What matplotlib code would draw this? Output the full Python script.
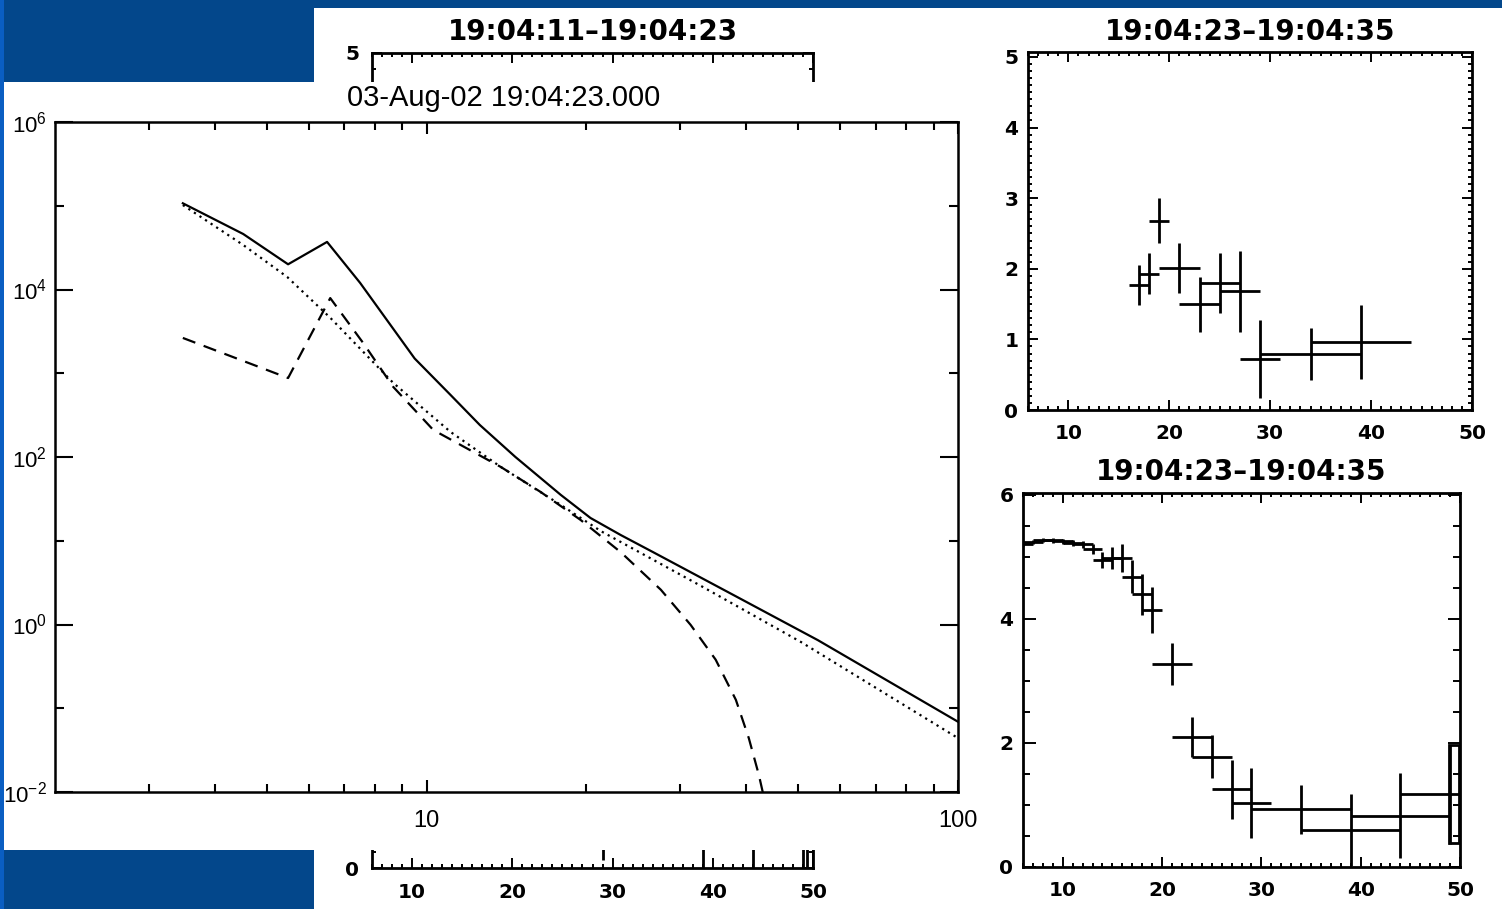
import matplotlib
matplotlib.use('Agg')
import matplotlib.pyplot as plt
import matplotlib.patches as patches
from matplotlib.ticker import MultipleLocator, FixedLocator, NullFormatter

plt.rcParams['font.family'] = ['Liberation Sans', 'DejaVu Sans']
plt.rcParams['mathtext.default'] = 'regular'

# --- main spectrum (flux vs energy in keV)
total_energy = [3.48, 4.52, 5.49, 6.5, 7.5, 9.5, 11.1, 12.6, 14.7, 17.9, 20.35, 23.2, 26.7,
                37.8, 54.5, 100]
total_flux = [1.07e5, 4.6e4, 2.0e4, 3.7e4, 1.2e4, 1.5e3, 550, 241, 100, 35.2, 18.7, 11.7, 7.3,
              2.25, 0.65, 0.069]

nonthermal_energy = [3.48, 4.52, 5.47, 6.59, 8.66, 11.1, 13.8, 17.9, 21.3, 32.8, 50.6, 100]
nonthermal_flux = [1.02e5, 3.4e4, 1.41e4, 4.6e3, 766, 199, 76, 26.7, 13.0, 2.9, 0.62, 0.044]

thermal_energy = [3.48, 5.49, 6.59, 7.6, 8.66, 10.3, 13.8, 16.4, 19.5, 23.2, 27.6, 31.4,
                  35.0, 38.2, 40.4, 42.2, 43.7]
thermal_flux = [2640, 877, 7900, 2300, 686, 210, 76, 38.2, 17.7, 7.3, 2.6, 0.99,
                0.38, 0.126, 0.044, 0.016, 0.006]

main_yticks = [1e-2, 1e0, 1e2, 1e4, 1e6]
main_ylabels = [r'$10^{-2}$', r'$10^{0}$', r'$10^{2}$', r'$10^{4}$', r'$10^{6}$']
main_yminor = [1e-1, 1e1, 1e3, 1e5]
date_text = '03-Aug-02 19:04:23.000'

# --- right top panel
top_title = '19:04:23\u201319:04:35'
top_x = [17, 18, 19, 21, 23, 25, 27, 29, 34, 39]
top_xerr = [1, 1, 1, 2, 2, 2, 2, 2, 5, 5]
top_y = [1.77, 1.93, 2.68, 2.01, 1.50, 1.80, 1.68, 0.72, 0.79, 0.96]
top_yerr = [0.29, 0.29, 0.32, 0.36, 0.39, 0.42, 0.57, 0.55, 0.37, 0.52]

# --- right bottom panel
bot_title = '19:04:23\u201319:04:35'
bot_x = [6, 7, 8, 9, 10, 11, 12, 13, 14, 15, 16, 17, 18, 19, 21, 23, 25, 27, 29, 34, 39, 44, 49]
bot_xerr = [1, 1, 1, 1, 1, 1, 1, 1, 1, 1, 1, 1, 1, 1, 2, 2, 2, 2, 2, 5, 5, 5, 5]
bot_y = [5.20, 5.24, 5.27, 5.27, 5.25, 5.23, 5.20, 5.12, 4.95, 4.98, 4.98, 4.68, 4.40, 4.15,
         3.27, 2.10, 1.78, 1.25, 1.03, 0.93, 0.60, 0.83, 1.17]
bot_yerr = [0.03, 0.03, 0.03, 0.04, 0.04, 0.05, 0.06, 0.08, 0.13, 0.18, 0.22, 0.27, 0.33, 0.37,
            0.34, 0.32, 0.35, 0.48, 0.56, 0.39, 0.58, 0.68, 0.80]
bot_edge_lo, bot_edge_hi = 0.38, 1.96

# --- panel hidden behind the main one (only its edges show)
hid_title = '19:04:11\u201319:04:23'
hid_x = [29, 39, 44, 49]
hid_xerr = [2, 5, 5, 5]
hid_y = [0.6, 0.5, 0.6, 0.9]
hid_yerr = [0.55, 0.55, 0.65, 0.95]

W, H = 1502, 909
blue = '#03478b'


def box(l, t, r, b):
    return [l / W, 1 - b / H, (r - l) / W, (b - t) / H]


fig = plt.figure(figsize=(W / 100, H / 100), dpi=100)
fig.patch.set_facecolor('white')

# slide background
for (l, t, r, b), c in [((0, 0, 1502, 8), blue), ((0, 0, 314, 82), blue),
                        ((0, 850, 314, 909), blue), ((0, 0, 4, 909), '#0a5ec2')]:
    x0, y0, w, h = box(l, t, r, b)
    fig.add_artist(patches.Rectangle((x0, y0), w, h, transform=fig.transFigure,
                                     facecolor=c, edgecolor='none', zorder=0.5))


def idl_ticks(ax, xmaj, xmin, ymaj, ymin, xlen, ylen, lw=2.0):
    ax.xaxis.set_major_locator(MultipleLocator(xmaj))
    ax.xaxis.set_minor_locator(MultipleLocator(xmin))
    ax.yaxis.set_major_locator(MultipleLocator(ymaj))
    ax.yaxis.set_minor_locator(MultipleLocator(ymin))
    ax.tick_params(which='both', direction='in', top=True, right=True, width=1.4, colors='k')
    ax.tick_params(axis='x', which='major', length=xlen[0], pad=10)
    ax.tick_params(axis='x', which='minor', length=xlen[1])
    ax.tick_params(axis='y', which='major', length=ylen[0], pad=7)
    ax.tick_params(axis='y', which='minor', length=ylen[1])
    for s in ax.spines.values():
        s.set_linewidth(lw)
    for lab in ax.get_xticklabels() + ax.get_yticklabels():
        lab.set_fontfamily('DejaVu Sans')
        lab.set_fontweight('bold')
        lab.set_fontsize(14.5)


def spectrum(ax, x, xerr, y, yerr):
    ax.errorbar(x, y, xerr=xerr, yerr=yerr, fmt='none', ecolor='k', elinewidth=2.0, capsize=0)


# hidden panel
ax_h = fig.add_axes(box(372, 53, 813, 868), zorder=0)
ax_h.set_xlim(6, 50)
ax_h.set_ylim(0, 5)
spectrum(ax_h, hid_x, hid_xerr, hid_y, hid_yerr)
ax_h.bar(49.4, bot_edge_hi - bot_edge_lo, width=0.6, bottom=-0.2, align='edge',
         fill=False, edgecolor='k', linewidth=2)
idl_ticks(ax_h, 10, 1, 5, 0.1, (7, 3), (7, 3))
ax_h.set_yticks([0, 5])
ax_h.tick_params(axis='y', pad=9)
ax_h.tick_params(axis='x', pad=11)
for lab in ax_h.get_xticklabels() + ax_h.get_yticklabels():
    lab.set_fontfamily('DejaVu Sans')
    lab.set_fontweight('bold')
    lab.set_fontsize(14.5)
ax_h.set_title(hid_title, fontfamily='DejaVu Sans', fontweight='bold', fontsize=20, pad=9)

# white sheet of the main plot laid over the hidden panel
x0, y0, w, h = box(4, 82, 975, 850)
fig.add_artist(patches.Rectangle((x0, y0), w, h, transform=fig.transFigure,
                                 facecolor='white', edgecolor='none', zorder=1))

# main spectrum plot
ax = fig.add_axes(box(55, 122, 958, 792), zorder=2)
ax.set_xscale('log')
ax.set_yscale('log')
ax.set_xlim(2, 100)
ax.set_ylim(1e-2, 1e6)
ax.plot(total_energy, total_flux, color='k', lw=1.6)
ax.plot(nonthermal_energy, nonthermal_flux, color='k', lw=1.6, linestyle=(0, (1, 2)))
ax.plot(thermal_energy, thermal_flux, color='k', lw=1.6, linestyle=(0, (6, 4)))
ax.yaxis.set_major_locator(FixedLocator(main_yticks))
ax.yaxis.set_minor_locator(FixedLocator(main_yminor))
ax.set_yticklabels(main_ylabels)
ax.yaxis.set_minor_formatter(NullFormatter())
ax.xaxis.set_major_locator(FixedLocator([10, 100]))
ax.set_xticklabels(['10', '100'])
ax.xaxis.set_minor_locator(FixedLocator([3, 4, 5, 6, 7, 8, 9, 20, 30, 40, 50, 60, 70, 80, 90]))
ax.xaxis.set_minor_formatter(NullFormatter())
ax.tick_params(which='both', direction='in', top=True, right=True, width=1.5, labelsize=17)
ax.tick_params(axis='y', which='major', length=13, pad=6, labelsize=16)
ax.tick_params(axis='y', which='minor', length=6.5)
ax.tick_params(axis='x', which='major', length=8.5, pad=13)
ax.tick_params(axis='x', which='minor', length=5.5)
for s in ax.spines.values():
    s.set_linewidth(1.8)
fig.text(347 / W, 1 - 98 / H, date_text, fontsize=21, ha='left', va='center', zorder=5)

# right top panel
ax_t = fig.add_axes(box(1028, 52, 1472, 410))
ax_t.set_xlim(6, 50)
ax_t.set_ylim(0, 5.07)
spectrum(ax_t, top_x, top_xerr, top_y, top_yerr)
idl_ticks(ax_t, 10, 1, 1, 0.1, (7, 3), (7, 3))
ax_t.set_title(top_title, fontfamily='DejaVu Sans', fontweight='bold', fontsize=20, pad=9)

# right bottom panel
ax_b = fig.add_axes(box(1023, 493, 1460, 867))
ax_b.set_xlim(6, 50)
ax_b.set_ylim(0, 6.03)
spectrum(ax_b, bot_x, bot_xerr, bot_y, bot_yerr)
ax_b.bar(48.9, bot_edge_hi - bot_edge_lo, width=1.0, bottom=bot_edge_lo, align='edge',
         fill=False, edgecolor='k', linewidth=2)
idl_ticks(ax_b, 10, 1, 2, 0.5, (7, 3), (9, 5))
ax_b.set_title(bot_title, fontfamily='DejaVu Sans', fontweight='bold', fontsize=20, pad=9)

fig.savefig('out.png', dpi=100, facecolor=fig.get_facecolor())
